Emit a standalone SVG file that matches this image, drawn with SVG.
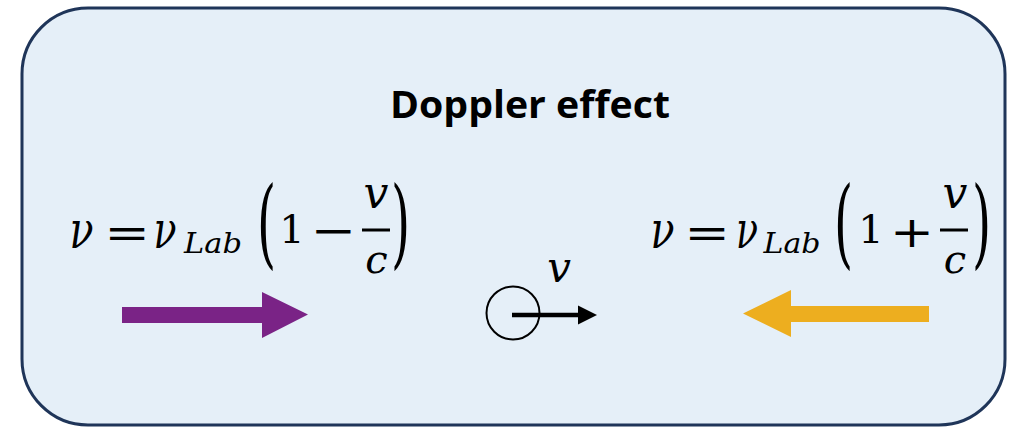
<svg xmlns="http://www.w3.org/2000/svg" width="1017" height="429" viewBox="0 0 1017 429">
<style>
.it{font-family:"DejaVu Serif","Liberation Serif",serif;font-style:italic;fill:#000;text-anchor:middle}
.op{font-family:"DejaVu Serif","Liberation Serif",serif;fill:#000;text-anchor:middle}
.par{font-family:"DejaVu Serif","Liberation Serif",serif;fill:#000}
.title{font-family:"Open Sans","Liberation Sans",sans-serif;font-weight:bold;fill:#000}
</style>
<rect width="1017" height="429" fill="#ffffff"/>
<g id="frame">
<rect x="22" y="8" width="983" height="417" rx="66" ry="66" fill="#e5eff8" stroke="#1f3559" stroke-width="3"/>
</g>
<g id="title">
<text class="title" x="390" y="118" font-size="38" textLength="280" lengthAdjust="spacingAndGlyphs">Doppler effect</text>
</g>
<g id="eq-left">
<text class="it" x="81.5" y="248" font-size="52" textLength="24" lengthAdjust="spacingAndGlyphs">ν</text>
<text class="op" transform="translate(127,248) scale(1.3,1)" font-size="42">=</text>
<text class="it" x="165" y="248" font-size="52" textLength="23" lengthAdjust="spacingAndGlyphs">ν</text>
<text class="it" x="213" y="253" font-size="27" textLength="58" lengthAdjust="spacingAndGlyphs">Lab</text>
<text class="par" transform="translate(257,256) scale(0.5,1)" font-size="98">(</text>
<text class="op" x="292" y="243" font-size="40">1</text>
<text class="op" transform="translate(333,245) scale(1.3,1)" font-size="42">−</text>
<rect x="362" y="228.5" width="28" height="3" fill="#000"/>
<text class="it" x="376" y="208" font-size="44">v</text>
<text class="it" x="376.5" y="273" font-size="40">c</text>
<text class="par" transform="translate(391,256) scale(0.5,1)" font-size="98">)</text>
</g>
<g id="eq-right">
<text class="it" x="662.5" y="248" font-size="52" textLength="24" lengthAdjust="spacingAndGlyphs">ν</text>
<text class="op" transform="translate(707,248) scale(1.3,1)" font-size="42">=</text>
<text class="it" x="747" y="248" font-size="52" textLength="22" lengthAdjust="spacingAndGlyphs">ν</text>
<text class="it" x="792" y="253" font-size="27" textLength="57" lengthAdjust="spacingAndGlyphs">Lab</text>
<text class="par" transform="translate(834,256) scale(0.5,1)" font-size="98">(</text>
<text class="op" x="871" y="243" font-size="40">1</text>
<text class="op" transform="translate(912,247) scale(1.25,1)" font-size="42">+</text>
<rect x="940" y="228.5" width="28" height="3" fill="#000"/>
<text class="it" x="955" y="208" font-size="44">v</text>
<text class="it" x="955" y="273" font-size="40">c</text>
<text class="par" transform="translate(972,256) scale(0.5,1)" font-size="98">)</text>
</g>
<g id="particle">
<circle cx="513" cy="313" r="26.5" fill="none" stroke="#000" stroke-width="2"/>
<text class="it" x="559" y="282" font-size="42">v</text>
</g>
<g id="connectors">
<polygon id="arrow-purple" points="122,307 262,307 262,292 308,314.5 262,338 262,323 122,323" fill="#7a2386"/>
<polygon id="arrow-orange" points="929,306 791,306 791,290 743,313.5 791,337 791,322 929,322" fill="#edae1f"/>
<line x1="512" y1="315" x2="581" y2="315" stroke="#000" stroke-width="4.5"/>
<polygon points="578,305.5 597,315 578,324.5" fill="#000"/>
</g>
</svg>
